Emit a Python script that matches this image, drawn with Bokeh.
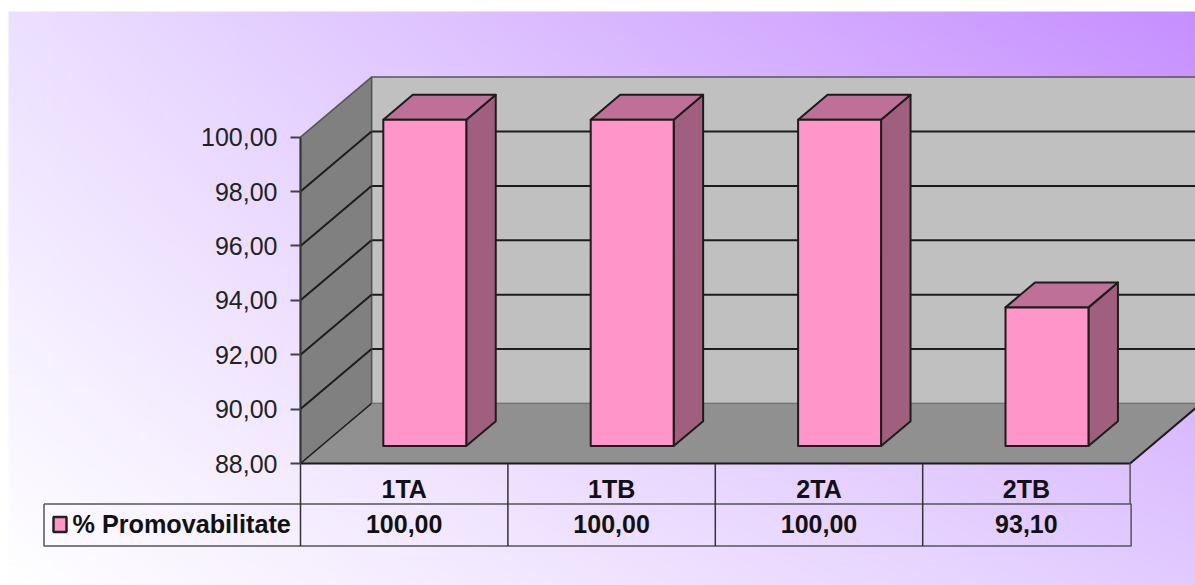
import numpy as np
from bokeh.plotting import figure
from bokeh.models import Range1d, FixedTicker
from bokeh.core.properties import value
from bokeh.embed import file_html
from bokeh.resources import INLINE

categories = ["1TA", "1TB", "2TA", "2TB"]
promovabilitate = [100.00, 100.00, 100.00, 93.10]
value_labels = ["100,00", "100,00", "100,00", "93,10"]
y_ticks = [88, 90, 92, 94, 96, 98, 100]
y_tick_labels = ["88,00", "90,00", "92,00", "94,00", "96,00", "98,00", "100,00"]
series_name = "% Promovabilitate"

# layout (screen pixels of the page)
W, H = 1195, 585
AX_X, CAT_W, Y_BASE, PX_UNIT = 300.0, 207.4, 463.0, 27.2
DEPTH_PX_X, DEPTH_PX_Y = 71.0, 60.0
FONT = "Liberation Sans"

def dx(px): return (px - AX_X) / CAT_W
def dy(py): return 88 + (Y_BASE - py) / PX_UNIT

x0, x1 = dx(0), dx(W)
y0, y1 = dy(H), dy(0)
DX, DY = DEPTH_PX_X / CAT_W, DEPTH_PX_Y / PX_UNIT

def proj(x, y, d):
    return x + d * DX, y + d * DY

p = figure(width=W, height=H, output_backend="svg", toolbar_location=None,
           x_range=Range1d(x0, x1), y_range=Range1d(y0, y1), min_border=0,
           x_axis_location="below", y_axis_location="left")
p.outline_line_color = None
p.grid.visible = False
p.background_fill_color = "white"
p.border_fill_color = "white"

# background gradient (bilinear between corners)
tl, tr, bl, br = [np.array(c, float) for c in
                  [(236, 224, 255), (198, 143, 255), (255, 255, 255), (226, 203, 255)]]
nx, ny = 400, 200
u = np.linspace(0, 1, nx)[None, :, None]
v = np.linspace(0, 1, ny)[:, None, None]  # v=0 bottom
grad = (tl * (1 - u) + tr * u) * v + (bl * (1 - u) + br * u) * (1 - v)
img = np.zeros((ny, nx), dtype=np.uint32)
view = img.view(dtype=np.uint8).reshape((ny, nx, 4))
view[:, :, :3] = grad.astype(np.uint8)
view[:, :, 3] = 255
top, gl = dy(11), dx(8)
p.image_rgba(image=[img], x=gl, y=y0, dw=x1 - gl, dh=top - y0)

WALL, SIDE, FLOOR = "#c0c0c0", "#808080", "#909090"
FRONT, RSIDE, TOP = "#ff95c8", "#a05f7f", "#bf7099"
DARK, EDGE = "#1c1c1c", "#555555"
n = len(categories)

# back wall
bx0, by0 = proj(0, 88, 1)
bx1, by1 = proj(n, 100, 1)
p.quad(left=bx0, right=bx1, bottom=by0, top=by1, fill_color=WALL,
       line_color=EDGE, line_width=1.5)
# back wall grid
for t in y_ticks[1:-1]:
    a = proj(0, t, 1); b = proj(n, t, 1)
    p.line([a[0], b[0]], [a[1], b[1]], line_color=DARK, line_width=2)
# side wall
sx = [0, 0, *proj(0, 100, 1)[:1], proj(0, 88, 1)[0]]
sy = [88, 100, proj(0, 100, 1)[1], proj(0, 88, 1)[1]]
p.patch(sx, sy, fill_color=SIDE, line_color=EDGE, line_width=1.5)
for t in y_ticks[1:-1]:
    a = proj(0, t, 1)
    p.line([0, a[0]], [t, a[1]], line_color=DARK, line_width=2)
# floor
fl = [proj(0, 88, 0), proj(n, 88, 0), proj(n, 88, 1), proj(0, 88, 1)]
p.patch([q[0] for q in fl], [q[1] for q in fl], fill_color=FLOOR, line_color=None)
a = proj(0, 88, 1)
p.line([0, a[0]], [88, a[1]], line_color=DARK, line_width=1.5)
a = proj(n, 88, 1)
p.line([n, a[0]], [88, a[1]], line_color=DARK, line_width=2)
p.line([0, a[0] - DX], [88, 88], line_color=DARK, line_width=2)

# bars
D0, D1 = 0.29, 0.705
BW = 0.4
for i, v_ in enumerate(promovabilitate):
    l, r = i + 0.5 - BW / 2, i + 0.5 + BW / 2
    fr = [proj(l, 88, D0), proj(r, 88, D0), proj(r, v_, D0), proj(l, v_, D0)]
    sd = [proj(r, 88, D0), proj(r, 88, D1), proj(r, v_, D1), proj(r, v_, D0)]
    tp = [proj(l, v_, D0), proj(r, v_, D0), proj(r, v_, D1), proj(l, v_, D1)]
    for poly, col in ((sd, RSIDE), (tp, TOP), (fr, FRONT)):
        p.patch([q[0] for q in poly], [q[1] for q in poly], fill_color=col,
                line_color=DARK, line_width=2, line_join="round")

# y axis
p.yaxis.fixed_location = 0
p.yaxis.bounds = (88, 100)
p.yaxis.ticker = FixedTicker(ticks=y_ticks)
p.yaxis.major_label_overrides = dict(zip(y_ticks, y_tick_labels))
p.yaxis.minor_tick_line_color = None
p.yaxis.major_tick_in = 0
p.yaxis.major_tick_out = 10
p.yaxis.major_tick_line_color = "#444444"
p.yaxis.major_tick_line_width = 2
p.yaxis.axis_line_color = "#333333"
p.yaxis.axis_line_width = 2
p.yaxis.major_label_standoff = 13
p.yaxis.major_label_text_font = FONT
p.yaxis.major_label_text_font_size = "25px"
p.yaxis.major_label_text_color = "#222222"

# x axis (category row of the data table)
cat_pos = [i + 0.5 for i in range(n)]
p.xaxis.fixed_location = 88
p.xaxis.bounds = (0, n)
p.xaxis.ticker = FixedTicker(ticks=cat_pos)
p.xaxis.major_label_overrides = dict(zip(cat_pos, categories))
p.xaxis.minor_tick_line_color = None
p.xaxis.major_tick_line_color = None
p.xaxis.axis_line_color = None
p.xaxis.major_label_standoff = 5
p.xaxis.major_label_text_font = FONT
p.xaxis.major_label_text_font_style = "bold"
p.xaxis.major_label_text_font_size = "25px"
p.xaxis.major_label_text_color = "#111111"

# data table
ROW1, ROW2 = dy(503.5), dy(545.5)
ROW_TEXT = dy(523)
LEG_L = dx(43.5)
TBL = "#555555"
p.line([LEG_L, n + 0.005, n + 0.005, LEG_L, LEG_L], [ROW1, ROW1, ROW2, ROW2, ROW1],
       line_color=TBL, line_width=1.5)
p.line([n, n], [88, ROW1], line_color=TBL, line_width=1.5)
for i in range(n):
    p.line([i, i], [88, ROW2], line_color="#333333", line_width=1.5)
p.text(x=cat_pos, y=[ROW_TEXT] * n, text=value_labels, text_font=value(FONT),
       text_font_style="bold", text_font_size="25px", text_align="center",
       text_baseline="middle", text_color="#111111")
p.quad(left=dx(53), right=dx(66), top=dy(516.5), bottom=dy(531.5), fill_color=FRONT,
       line_color="#222222", line_width=2.5)
p.text(x=[dx(72)], y=[ROW_TEXT], text=[series_name], text_font=value(FONT),
       text_font_style="bold", text_font_size="25.2px", text_align="left",
       text_baseline="middle", text_color="#111111")

open("out.html", "w").write(file_html(p, INLINE))
